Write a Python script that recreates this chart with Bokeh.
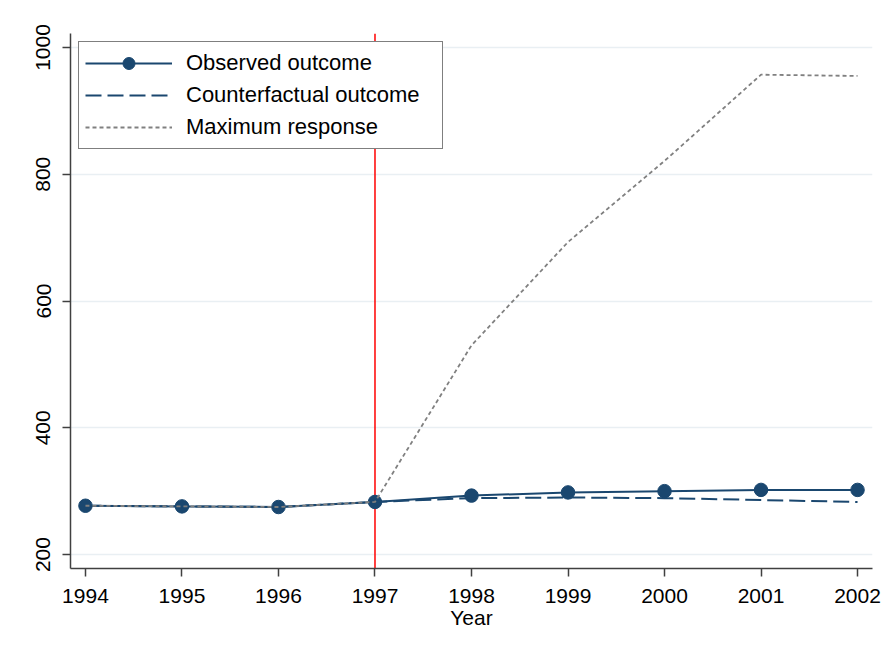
import numpy as np
from bokeh.plotting import figure
from bokeh.models import Range1d, Span, Legend, LegendItem, FixedTicker
from bokeh.embed import file_html
from bokeh.resources import INLINE

years = [1994, 1995, 1996, 1997, 1998, 1999, 2000, 2001, 2002]
observed = [277, 276, 275, 283, 293, 298, 300, 302, 302]
counterfactual = [277, 276, 275, 283, 289, 290, 289, 286, 283]
max_response = [277, 276, 275, 283, 530, 693, 821, 957, 955]
y_ticks = [200, 400, 600, 800, 1000]
treatment_year = 1997

NAVY = "#1a476f"
GRAY = "#808080"
FONT = "Liberation Sans"

p = figure(width=886, height=640, output_backend="svg", toolbar_location=None,
           x_range=Range1d(1993.845, 2002.155), y_range=Range1d(178, 1022),
           min_border_left=70, min_border_right=14, min_border_top=33,
           min_border_bottom=72)
p.outline_line_color = None
p.background_fill_color = "white"
p.border_fill_color = "white"

# grid
p.xgrid.grid_line_color = None
p.ygrid.grid_line_color = "#e9eff3"
p.ygrid.grid_line_width = 1.5

# axes
for ax in (p.xaxis, p.yaxis):
    ax.axis_line_color = "#404040"
    ax.axis_line_width = 1.5
    ax.major_tick_line_color = "#404040"
    ax.major_tick_line_width = 1.5
    ax.major_tick_out = 8
    ax.major_tick_in = 0
    ax.minor_tick_line_color = None
    ax.major_label_text_font = FONT
    ax.major_label_text_font_size = "21px"
    ax.major_label_text_color = "black"

p.xaxis.ticker = FixedTicker(ticks=years)
p.xaxis.major_label_standoff = 12
p.xaxis.axis_label = "Year"
p.xaxis.axis_label_text_font = FONT
p.xaxis.axis_label_text_font_size = "21px"
p.xaxis.axis_label_text_font_style = "normal"
p.xaxis.axis_label_text_color = "black"
p.xaxis.axis_label_standoff = 0

p.yaxis.ticker = FixedTicker(ticks=y_ticks)
p.yaxis.major_label_orientation = "vertical"
p.yaxis.major_label_standoff = 12

# treatment line, underneath the series
p.add_layout(Span(location=treatment_year, dimension="height",
                  line_color="#ff0000", line_width=1.5, level="underlay"))

obs_line = p.line(years, observed, line_color=NAVY, line_width=2)
obs_pts = p.scatter(years, observed, size=13.5, fill_color=NAVY, line_color=NAVY)
cf_line = p.line(years, counterfactual, line_color=NAVY, line_width=2,
                 line_dash="16 6")
max_line = p.line(years, max_response, line_color=GRAY, line_width=1.8,
                  line_dash="4 3")

legend = Legend(items=[
    LegendItem(label="Observed outcome", renderers=[obs_line, obs_pts]),
    LegendItem(label="Counterfactual outcome", renderers=[cf_line]),
    LegendItem(label="Maximum response", renderers=[max_line]),
], location="top_left")
legend.margin = 8
legend.padding = 6
legend.spacing = 2
legend.glyph_width = 87
legend.glyph_height = 30
legend.label_height = 30
legend.label_width = 250
legend.label_standoff = 14
legend.label_text_font = FONT
legend.label_text_font_size = "22px"
legend.label_text_color = "black"
legend.border_line_color = "black"
legend.border_line_width = 1.5
legend.background_fill_alpha = 1
p.add_layout(legend)

open("out.html", "w").write(file_html(p, INLINE))
